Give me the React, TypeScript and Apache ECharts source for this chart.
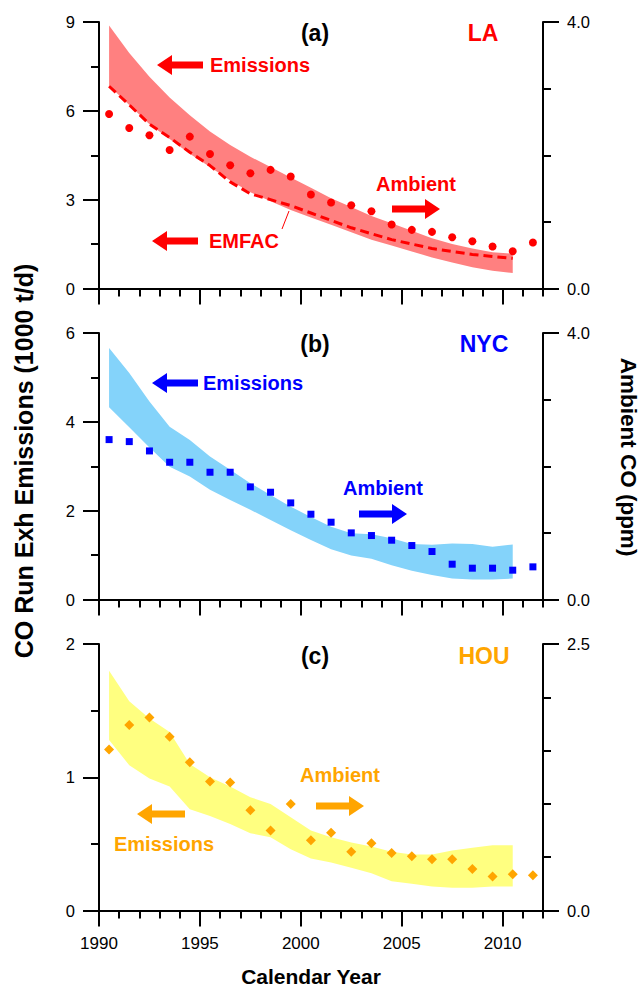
import React, { useEffect, useRef } from "react";
import * as echarts from "echarts";

// ---------- data ----------
const ambientYears = [1990.5, 1991.5, 1992.5, 1993.5, 1994.5, 1995.5, 1996.5, 1997.5, 1998.5, 1999.5, 2000.5,
  2001.5, 2002.5, 2003.5, 2004.5, 2005.5, 2006.5, 2007.5, 2008.5, 2009.5, 2010.5, 2011.5];
const bandYears = [1990.5, 1991.5, 1992.5, 1993.5, 1994.5, 1995.5, 1996.5, 1997.5, 1998.5, 1999.5, 2000.5,
  2001.5, 2002.5, 2003.5, 2004.5, 2005.5, 2006.5, 2007.5, 2008.5, 2009.5, 2010.5];

// LA (a)
const laUpper = [8.88, 7.95, 7.15, 6.45, 5.85, 5.3, 4.85, 4.45, 4.1, 3.75, 3.4, 3.05, 2.75, 2.45, 2.2, 1.95, 1.7, 1.5, 1.35, 1.22, 1.18];
const laLower = [6.85, 6.2, 5.55, 5.05, 4.55, 4.1, 3.65, 3.25, 2.95, 2.65, 2.4, 2.15, 1.9, 1.65, 1.45, 1.25, 1.05, 0.88, 0.72, 0.6, 0.52];
const laEmfac = [6.83, 6.2, 5.55, 5.1, 4.6, 4.15, 3.6, 3.2, 3.0, 2.8, 2.55, 2.3, 2.05, 1.85, 1.65, 1.5, 1.35, 1.25, 1.15, 1.08, 1.02];
const laAmbient = [2.62, 2.41, 2.3, 2.08, 2.28, 2.02, 1.85, 1.73, 1.78, 1.68, 1.41, 1.29, 1.25, 1.16, 0.96, 0.88, 0.85, 0.77, 0.71, 0.63, 0.56, 0.69];

// NYC (b)
const nycUpper = [5.66, 5.1, 4.46, 3.89, 3.59, 3.22, 2.92, 2.62, 2.35, 2.09, 1.86, 1.64, 1.49, 1.47, 1.38, 1.25, 1.23, 1.26, 1.25, 1.19, 1.24];
const nycLower = [4.33, 3.88, 3.42, 2.99, 2.77, 2.47, 2.24, 2.02, 1.79, 1.56, 1.34, 1.13, 0.99, 0.92, 0.77, 0.65, 0.55, 0.47, 0.45, 0.45, 0.47];
const nycAmbient = [2.4, 2.37, 2.23, 2.06, 2.06, 1.91, 1.91, 1.69, 1.61, 1.45, 1.28, 1.16, 1.0, 0.96, 0.89, 0.81, 0.72, 0.53, 0.47, 0.47, 0.44, 0.49];

// HOU (c)
const houUpper = [1.8, 1.57, 1.44, 1.34, 1.1, 1.0, 0.93, 0.85, 0.8, 0.7, 0.6, 0.55, 0.51, 0.48, 0.44, 0.42, 0.42, 0.45, 0.47, 0.49, 0.49];
const houLower = [1.28, 1.09, 0.99, 0.93, 0.76, 0.71, 0.65, 0.58, 0.55, 0.46, 0.39, 0.36, 0.32, 0.28, 0.22, 0.2, 0.18, 0.17, 0.17, 0.18, 0.18];
const houAmbient = [1.51, 1.74, 1.81, 1.63, 1.39, 1.21, 1.2, 0.94, 0.75, 1.0, 0.66, 0.73, 0.55, 0.63, 0.54, 0.51, 0.48, 0.48, 0.39, 0.32, 0.34, 0.33];

// axes
const xRange = [1990, 2012];
const xMajorRange = [1990, 2010];
const xMajorTicks = [1990, 1995, 2000, 2005, 2010];
const leftMax = [9, 6, 2];
const leftInterval = [3, 2, 1];
const rightMax = [4, 4, 2.5];
const rightMinorSplit = [4, 4, 5];

const panelNames = ["(a)", "(b)", "(c)"];
const cityNames = ["LA", "NYC", "HOU"];
const cityColors = ["#FF0000", "#0000FF", "#FFA500"];
const bandColors = ["#FF8080", "#84D3FA", "#FFFF80"];
const ambientSymbols = ["circle", "rect", "diamond"];
const ambientSizes = [8, 7, 10];

const FONT = "'Liberation Sans', Arial, Helvetica, sans-serif";

// ---------- layout ----------
const gridTops = [22, 333, 644];
const gridHeight = 266.5;
const gridLeft = 99;
const gridWidth = 444;

function zip(xs: number[], ys: number[]) {
  return xs.map((x, i) => [x, ys[i]]);
}

function arrow(tipX: number, tailX: number, y: number, color: string) {
  const dir = tipX < tailX ? -1 : 1;
  const headLen = 15;
  const headHalf = 10;
  const shaftHalf = 3.5;
  const baseX = tipX - dir * headLen;
  return {
    type: "polygon",
    silent: true,
    shape: {
      points: [
        [tailX, y - shaftHalf],
        [baseX, y - shaftHalf],
        [baseX, y - headHalf],
        [tipX, y],
        [baseX, y + headHalf],
        [baseX, y + shaftHalf],
        [tailX, y + shaftHalf],
      ],
    },
    style: { fill: color },
  };
}

function label(text: string, x: number, y: number, color: string, size: number, align = "left") {
  return {
    type: "text",
    x,
    y,
    silent: true,
    style: {
      text,
      fill: color,
      fontSize: size,
      fontWeight: "bold",
      fontFamily: FONT,
      align,
      verticalAlign: "middle",
    },
  };
}

export default function App() {
  const ref = useRef<HTMLDivElement>(null);

  useEffect(() => {
    if (!ref.current) return;
    const chart = echarts.init(ref.current, undefined, { renderer: "svg" });

    const axisLine = { show: true, lineStyle: { color: "#000", width: 2 } };

    const grid: any[] = [];
    const xAxis: any[] = [];
    const yAxis: any[] = [];
    const series: any[] = [];

    const uppers = [laUpper, nycUpper, houUpper];
    const lowers = [laLower, nycLower, houLower];
    const ambients = [laAmbient, nycAmbient, houAmbient];

    for (let i = 0; i < 3; i++) {
      grid.push({ left: gridLeft, top: gridTops[i], width: gridWidth, height: gridHeight });
      xAxis.push({
        type: "value",
        gridIndex: i,
        position: "bottom",
        min: xRange[0],
        max: xRange[1],
        interval: 1,
        axisLine: { ...axisLine, onZero: false },
        axisTick: { show: true, length: 8, lineStyle: { color: "#000", width: 2 } },
        axisLabel: {
          show: i === 2,
          margin: 24,
          fontSize: 17,
          color: "#000",
          fontFamily: FONT,
          formatter: (v: number) => (xMajorTicks.indexOf(v) >= 0 ? String(v) : ""),
        },
        splitLine: { show: false },
      });
      yAxis.push({
        type: "value",
        gridIndex: i,
        position: "left",
        min: 0,
        max: leftMax[i],
        interval: leftInterval[i],
        axisLine: axisLine,
        axisTick: { show: true, length: 16, lineStyle: { color: "#000", width: 2 } },
        minorTick: { show: true, splitNumber: 2, length: 8, lineStyle: { color: "#000", width: 2 } },
        axisLabel: { margin: 24, fontSize: 16.5, color: "#000", fontFamily: FONT },
        splitLine: { show: false },
        minorSplitLine: { show: false },
      });
      yAxis.push({
        type: "value",
        gridIndex: i,
        position: "right",
        min: 0,
        max: rightMax[i],
        interval: rightMax[i],
        axisLine: axisLine,
        axisTick: { show: true, length: 16, lineStyle: { color: "#000", width: 2 } },
        minorTick: { show: true, splitNumber: rightMinorSplit[i], length: 8, lineStyle: { color: "#000", width: 2 } },
        axisLabel: {
          margin: 24,
          fontSize: 16.5,
          color: "#000",
          fontFamily: FONT,
          formatter: (v: number) => v.toFixed(1),
        },
        splitLine: { show: false },
        minorSplitLine: { show: false },
      });

      const up = uppers[i];
      const lo = lowers[i];
      const fill = bandColors[i];
      series.push({
        type: "custom",
        xAxisIndex: i,
        yAxisIndex: 2 * i,
        data: bandYears.map((x, k) => [x, lo[k], up[k]]),
        silent: true,
        z: 1,
        clip: false,
        renderItem: (params: any, api: any) => {
          if (params.dataIndex !== 0) return null;
          const top = bandYears.map((x, k) => api.coord([x, up[k]]));
          const bottom = bandYears.map((x, k) => api.coord([x, lo[k]])).reverse();
          return {
            type: "polygon",
            shape: { points: top.concat(bottom) },
            style: { fill, stroke: null },
          };
        },
      });
      if (i === 0) {
        series.push({
          type: "line",
          xAxisIndex: 0,
          yAxisIndex: 0,
          data: zip(bandYears, laEmfac),
          symbol: "none",
          lineStyle: { color: "#FF0000", width: 3, type: [9, 5] },
          silent: true,
          z: 3,
        });
      }
      series.push({
        type: "scatter",
        xAxisIndex: i,
        yAxisIndex: 2 * i + 1,
        data: zip(ambientYears, ambients[i]),
        symbol: ambientSymbols[i],
        symbolSize: ambientSizes[i],
        itemStyle: { color: cityColors[i], opacity: 1 },
        silent: true,
        z: 4,
      });
    }

    // hidden grids carrying the long (5-year) ticks, spanning 1990-2010 exactly
    const majorWidth = (gridWidth * (xMajorRange[1] - xMajorRange[0])) / (xRange[1] - xRange[0]);
    for (let i = 0; i < 3; i++) {
      grid.push({ left: gridLeft, top: gridTops[i], width: majorWidth, height: gridHeight });
      xAxis.push({
        type: "value",
        gridIndex: 3 + i,
        position: "bottom",
        min: xMajorRange[0],
        max: xMajorRange[1],
        interval: 5,
        axisLine: { show: false, onZero: false },
        axisTick: { show: true, length: 16, lineStyle: { color: "#000", width: 2 } },
        axisLabel: { show: false },
        splitLine: { show: false },
      });
      yAxis.push({
        type: "value",
        gridIndex: 3 + i,
        min: 0,
        max: 1,
        show: false,
      });
    }

    const red = cityColors[0];
    const blue = cityColors[1];
    const orange = cityColors[2];

    const graphic: any[] = [
      label(panelNames[0], 315, 33, "#000", 23, "center"),
      label(cityNames[0], 483, 33, red, 23, "center"),
      label(panelNames[1], 315, 344, "#000", 23, "center"),
      label(cityNames[1], 484, 344, blue, 23, "center"),
      label(panelNames[2], 315, 656, "#000", 23, "center"),
      label(cityNames[2], 484, 656, orange, 23, "center"),
      arrow(157, 203, 65, red),
      label("Emissions", 210, 65, red, 20),
      arrow(152, 198, 241, red),
      label("EMFAC", 209, 241, red, 20),
      {
        type: "line",
        silent: true,
        z: 100,
        shape: { x1: 282, y1: 229, x2: 289, y2: 211 },
        style: { stroke: red, lineWidth: 1 },
      },
      label("Ambient", 376, 184, red, 20),
      arrow(440, 392, 209, red),
      arrow(152, 198, 383, blue),
      label("Emissions", 203, 383, blue, 20),
      label("Ambient", 343, 488, blue, 20),
      arrow(407, 359, 514, blue),
      label("Ambient", 300, 775, orange, 20),
      arrow(364, 316, 806, orange),
      arrow(137, 185, 814, orange),
      label("Emissions", 114, 844, orange, 20),
      label("Calendar Year", 311, 976, "#000", 21, "center"),
      {
        type: "text",
        x: 24,
        y: 461,
        rotation: Math.PI / 2,
        silent: true,
        style: {
          text: "CO Run Exh Emissions (1000 t/d)",
          fill: "#000",
          fontSize: 25,
          fontWeight: "bold",
          fontFamily: FONT,
          align: "center",
          verticalAlign: "middle",
        },
      },
      {
        type: "text",
        x: 628,
        y: 457,
        rotation: -Math.PI / 2,
        silent: true,
        style: {
          text: "Ambient CO (ppm)",
          fill: "#000",
          fontSize: 22.5,
          fontWeight: "bold",
          fontFamily: FONT,
          align: "center",
          verticalAlign: "middle",
        },
      },
    ];

    chart.setOption({
      animation: false,
      backgroundColor: "#fff",
      textStyle: { fontFamily: FONT },
      grid,
      xAxis,
      yAxis,
      series,
      graphic,
    });

    return () => {
      chart.dispose();
    };
  }, []);

  return (
    <div
      ref={ref}
      style={{ position: "fixed", left: 0, top: 0, width: 642, height: 992, background: "#fff" }}
    />
  );
}
